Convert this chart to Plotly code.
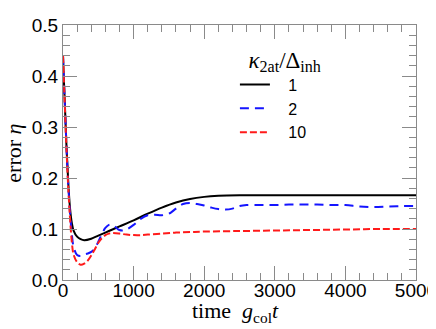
import plotly.graph_objects as go

t_k1 = [0, 10, 25, 50, 75, 100, 125, 150, 200, 250, 300, 400, 500, 600, 700, 800, 1000,
        1200, 1400, 1600, 1800, 2000, 2200, 2500, 3000, 4000, 5000]
eta_k1 = [0.44, 0.40, 0.35, 0.26, 0.19, 0.14, 0.112, 0.097, 0.085, 0.080, 0.078, 0.081, 0.087,
          0.093, 0.099, 0.105, 0.117, 0.130, 0.142, 0.152, 0.159, 0.163, 0.165, 0.166, 0.166,
          0.166, 0.166]

t_k2 = [0, 10, 25, 50, 75, 100, 125, 150, 200, 250, 300, 350, 400, 450, 500, 550, 600, 650,
        700, 750, 800, 850, 900, 1000, 1100, 1200, 1300, 1400, 1500, 1600, 1700, 1800, 1900,
        2000, 2100, 2200, 2300, 2400, 2500, 2600, 2800, 3000, 3200, 3400, 3600, 3800, 4000,
        4200, 4400, 4600, 4800, 5000]
eta_k2 = [0.44, 0.40, 0.35, 0.26, 0.185, 0.13, 0.09, 0.065, 0.049, 0.047, 0.050, 0.052, 0.055,
          0.062, 0.075, 0.090, 0.102, 0.108, 0.108, 0.103, 0.098, 0.097, 0.099, 0.108, 0.120,
          0.127, 0.128, 0.127, 0.130, 0.140, 0.149, 0.151, 0.149, 0.146, 0.142, 0.139, 0.138,
          0.140, 0.145, 0.147, 0.147, 0.147, 0.148, 0.148, 0.148, 0.147, 0.147, 0.144, 0.143,
          0.144, 0.145, 0.145]

t_k10 = [0, 10, 25, 50, 75, 100, 125, 150, 200, 250, 300, 350, 400, 450, 500, 550, 600, 650,
         700, 800, 900, 1000, 1100, 1200, 1400, 1600, 1800, 2000, 2500, 3000, 3500, 4000,
         4500, 5000]
eta_k10 = [0.44, 0.40, 0.345, 0.255, 0.18, 0.12, 0.075, 0.05, 0.035, 0.030, 0.032, 0.038, 0.048,
           0.060, 0.073, 0.082, 0.088, 0.091, 0.092, 0.091, 0.089, 0.088, 0.088, 0.089, 0.091,
           0.093, 0.094, 0.095, 0.096, 0.097, 0.098, 0.099, 0.100, 0.100]

labels = ["1", "2", "10"]

SANS = "Liberation Sans, Arial, sans-serif"
SERIF = "Liberation Serif, Times New Roman, serif"
NB = "\u00a0\u00a0\u00a0"

fig = go.Figure()
fig.add_trace(go.Scatter(x=t_k1, y=eta_k1, mode="lines", name=NB + labels[0],
                         line=dict(color="black", width=2, shape="spline")))
fig.add_trace(go.Scatter(x=t_k2, y=eta_k2, mode="lines", name=NB + labels[1],
                         line=dict(color="#1515ff", width=2, dash="9px,6px", shape="spline")))
fig.add_trace(go.Scatter(x=t_k10, y=eta_k10, mode="lines", name=NB + labels[2],
                         line=dict(color="#ff1a1a", width=2, dash="7px,3px", shape="spline")))

axcommon = dict(showgrid=False, zeroline=False, showline=True, linecolor="#8a8a8a",
                linewidth=1.2, mirror="ticks", ticks="inside", ticklen=14, tickwidth=1.2,
                tickcolor="#8a8a8a", ticklabeloverflow="allow",
                tickfont=dict(family=SANS, size=19, color="black"))

fig.update_xaxes(range=[0, 5000], dtick=1000, tick0=0, ticklabelstandoff=-7,
                 minor=dict(dtick=200, ticks="inside", ticklen=7, tickcolor="#8a8a8a",
                            tickwidth=1.2),
                 **axcommon)
fig.update_yaxes(range=[0, 0.5], dtick=0.1, tick0=0, tickformat=".1f",
                 minor=dict(dtick=0.02, ticks="inside", ticklen=7, tickcolor="#8a8a8a",
                            tickwidth=1.2),
                 **axcommon)

fig.add_annotation(text="time  <i>g</i><sub>col</sub><i>t</i>", xref="paper", yref="paper",
                   x=(230 - 55) / 358, y=(272 - 305) / 265, xanchor="center", yanchor="middle",
                   showarrow=False, font=dict(family=SERIF, size=22, color="black"))
fig.add_annotation(text="error <i>η</i>", xref="paper", yref="paper", textangle=-90,
                   x=(5 - 55) / 358, y=(272 - 140) / 265, xanchor="center", yanchor="middle",
                   showarrow=False, font=dict(family=SERIF, size=22, color="black"))

fig.update_layout(
    width=436, height=329,
    margin=dict(l=55, r=23, t=7, b=57),
    plot_bgcolor="white", paper_bgcolor="white",
    legend=dict(x=0.487, y=0.95, xanchor="left", yanchor="top",
                bgcolor="rgba(0,0,0,0)",
                font=dict(family=SANS, size=16, color="black"),
                title=dict(text="\u00a0\u00a0<i>κ</i><sub>2at</sub>/Δ<sub>inh</sub>",
                           font=dict(family=SERIF, size=23, color="black"), side="top"),
                tracegroupgap=0, itemwidth=30),
)

fig.write_html("out.html")
